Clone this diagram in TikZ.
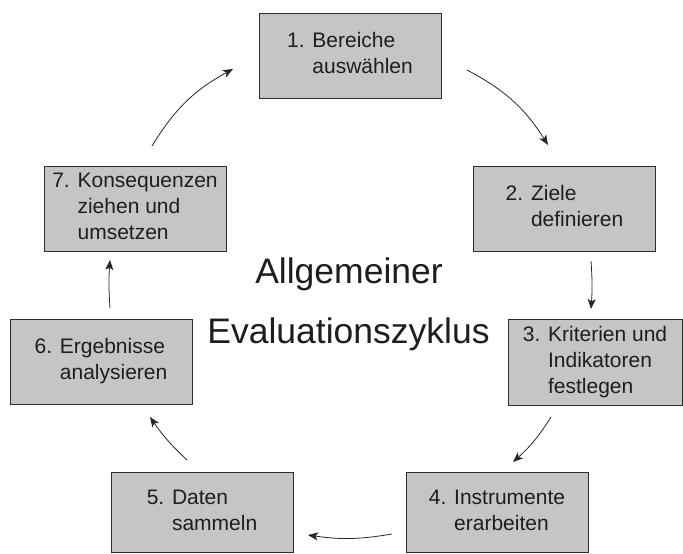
\documentclass[tikz,border=0pt]{standalone}
\usepackage{fontspec}
\setmainfont{Liberation Sans}
\usetikzlibrary{arrows.meta}

\definecolor{boxfill}{RGB}{197,197,197}
\definecolor{boxline}{RGB}{45,45,45}
\definecolor{inktext}{RGB}{30,30,30}

\tikzset{
  phase/.style={draw=boxline, fill=boxfill, line width=1pt, inner sep=0pt,
    minimum width=182pt, minimum height=85pt, text=inktext,
    font=\fontsize{21}{26}\selectfont},
  cyc/.style={-{Stealth[length=10pt,width=8pt,inset=2.5pt]}, line width=0.8pt, black!85},
  heading/.style={anchor=base, text=inktext, font=\fontsize{35.5}{40}\selectfont}
}

\newcommand{\phasetext}[2]{\begin{tabular}{@{}r@{ }l@{}}#1 & #2\end{tabular}}

\begin{document}
\begin{tikzpicture}[x=1pt,y=-1pt]
    \useasboundingbox (0,0) rectangle (683,554);

    % Draw boxes
    \node[phase] (b1) at (350,55.5) {\phasetext{1.}{Bereiche\\ & auswählen}};
    \node[phase] (b2) at (564.5,208.5) {\phasetext{2.}{Ziele\\ & definieren}};
    \node[phase, minimum width=174pt, minimum height=86pt] (b3) at (595,362) {\phasetext{3.}{Kriterien und\\ & Indikatoren\\ & festlegen}};
    \node[phase, minimum height=80pt] (b4) at (497,512) {\phasetext{4.}{Instrumente\\ & erarbeiten}};
    \node[phase, minimum height=80pt] (b5) at (202,512) {\phasetext{5.}{Daten\\ & sammeln}};
    \node[phase] (b6) at (101,361.5) {\phasetext{6.}{Ergebnisse\\ & analysieren}};
    \node[phase] (b7) at (135,208.5) {\phasetext{7.}{Konsequenzen\\ & ziehen und\\ & umsetzen}};

    % Draw title
    \node[heading] (t1) at (349,283) {Allgemeiner};
    \node[heading] (t2) at (348.5,343) {Evaluationszyklus};

    % Arrow ends
    \coordinate (s12) at (467,70);  \coordinate (e12) at (548,145);
    \coordinate (s23) at (591,261); \coordinate (e23) at (591,309);
    \coordinate (s34) at (551,417); \coordinate (e34) at (513,462);
    \coordinate (s45) at (392,534); \coordinate (e45) at (308,535);
    \coordinate (s56) at (187,460); \coordinate (e56) at (150,417);
    \coordinate (s67) at (110,308); \coordinate (e67) at (110,260);
    \coordinate (s71) at (152,146); \coordinate (e71) at (233,69);

    % Draw arrows
    \draw[cyc] (s12) to[bend left=15] (e12);
    \draw[cyc] (s23) to[bend left=4] (e23);
    \draw[cyc] (s34) to[bend left=8] (e34);
    \draw[cyc] (s45) to[bend left=9] (e45);
    \draw[cyc] (s56) to[bend left=6] (e56);
    \draw[cyc] (s67) to[bend left=4] (e67);
    \draw[cyc] (s71) to[bend left=15] (e71);
\end{tikzpicture}
\end{document}
